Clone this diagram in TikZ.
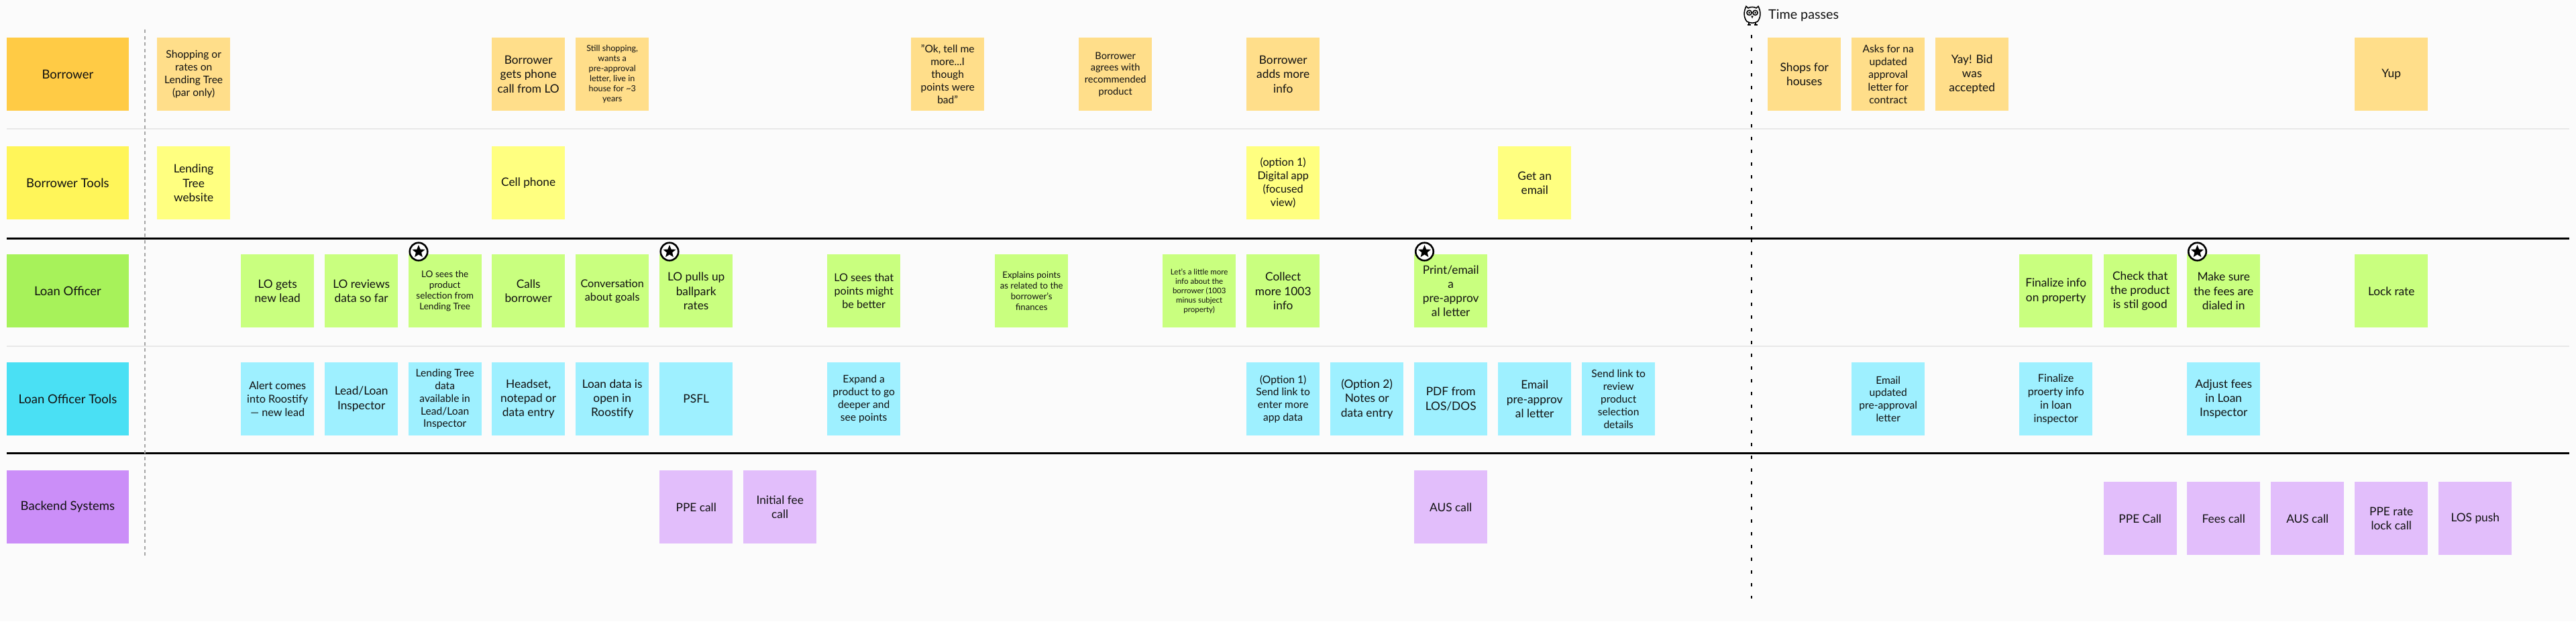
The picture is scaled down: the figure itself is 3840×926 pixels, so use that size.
\documentclass[tikz,border=0pt]{standalone}
\usepackage{fontspec}
\setmainfont{Lato}
\usetikzlibrary{shapes.geometric}
\definecolor{pagebg}{HTML}{FBFBFB}
\definecolor{labA}{HTML}{FFCB45}\definecolor{noteA}{HTML}{FFDE8A}
\definecolor{labB}{HTML}{FFF559}\definecolor{noteB}{HTML}{FFFF80}
\definecolor{labC}{HTML}{A7F25A}\definecolor{noteC}{HTML}{C9FF7F}
\definecolor{labD}{HTML}{4AE0F4}\definecolor{noteD}{HTML}{9EF0FF}
\definecolor{labE}{HTML}{CB8EF8}\definecolor{noteE}{HTML}{E2BEFB}
\definecolor{inkc}{HTML}{111111}
\tikzset{
  x=1pt,y=-1pt,
  box/.style={anchor=north west,inner sep=0pt,minimum height=109pt,align=center,text=inkc},
  lab/.style={box,minimum width=181.5pt,font=\fontsize{18.5}{21}\selectfont},
  nt/.style={box,minimum width=109pt},
  fbig/.style={font=\fontsize{17.3}{21.3}\selectfont},
  flar/.style={font=\fontsize{16.2}{20}\selectfont},
  fmid/.style={font=\fontsize{15.6}{18.9}\selectfont},
  fagr/.style={font=\fontsize{14.6}{17.6}\selectfont},
  fsma/.style={font=\fontsize{13.6}{16.3}\selectfont},
  fexp/.style={font=\fontsize{13.2}{15.7}\selectfont},
  fmin/.style={font=\fontsize{12.6}{15}\selectfont},
  ftin/.style={font=\fontsize{11.5}{14}\selectfont},
  A/.style={fill=noteA},B/.style={fill=noteB},C/.style={fill=noteC},D/.style={fill=noteD},E/.style={fill=noteE},
  softline/.style={draw=black!9,line width=2pt},
  hardline/.style={draw=black,line width=3pt},
  startline/.style={draw=black!35,line width=2.5pt,dash pattern=on 5pt off 4.5pt},
  timeline/.style={draw=black,line width=2.5pt,dash pattern=on 5pt off 14pt},
  badge/.style={circle,draw=black,fill=white,line width=2.6pt,minimum size=26.5pt,inner sep=0pt},
  badgestar/.style={star,star points=5,star point ratio=2.3,fill=black,minimum size=20pt,inner sep=0pt},
}
\newcommand{\nnote}[6]{\node[nt,#1,#5] (#2) at (#3,#4) {#6};}
\newcommand{\bdg}[2]{\node[badge] (#1) at (#2,375) {}; \node[badgestar] (#1s) at (#1) {};}
\begin{document}
\begin{tikzpicture}
\fill[pagebg] (0,0) rectangle (3840,926);
\useasboundingbox (0,0) rectangle (3840,926);
% rules
\coordinate (l1a) at (10,192);\coordinate (l1b) at (3830,192);
\coordinate (l2a) at (10,355);\coordinate (l2b) at (3830,355);
\coordinate (l3a) at (10,516);\coordinate (l3b) at (3830,516);
\coordinate (l4a) at (10,675);\coordinate (l4b) at (3830,675);
\draw[softline] (l1a)--(l1b);
\draw[softline] (l3a)--(l3b);
\draw[hardline] (l2a)--(l2b);
\draw[hardline] (l4a)--(l4b);
\coordinate (sa) at (216,44);\coordinate (sb) at (216,828);
\draw[startline] (sa)--(sb);
\coordinate (ta) at (2611,52);\coordinate (tb) at (2611,892);
\draw[timeline] (ta)--(tb);
% labels
\node[lab,fill=labA] (lbA) at (10,56) {Borrower};
\node[lab,fill=labB] (lbB) at (10,218) {Borrower Tools};
\node[lab,fill=labC] (lbC) at (10,379) {Loan Officer};
\node[lab,fill=labD] (lbD) at (10,540) {Loan Officer Tools};
\node[lab,fill=labE] (lbE) at (10,701) {Backend Systems};
% Borrower
\nnote{A}{a1}{234}{56}{fmid}{Shopping or\\rates on\\Lending Tree\\(par only)}
\nnote{A}{a2}{733}{56}{fbig}{Borrower\\gets phone\\call from LO}
\nnote{A}{a3}{858}{56}{fmin}{Still shopping,\\wants a\\pre-approval\\letter, live in\\house for \textasciitilde 3\\years}
\nnote{A}{a4}{1358}{56}{fmid}{"Ok, tell me\\more...I\\though\\points were\\bad"}
\nnote{A}{a5}{1608}{56}{fagr}{Borrower\\agrees with\\recommended\\product}
\nnote{A}{a6}{1858}{56}{fbig}{Borrower\\adds more\\info}
\nnote{A}{a7}{2635}{56}{fbig}{Shops for\\houses}
\nnote{A}{a8}{2760}{56}{fmid}{Asks for na\\updated\\approval\\letter for\\contract}
\nnote{A}{a9}{2885}{56}{fbig}{Yay! Bid\\was\\accepted}
\nnote{A}{a10}{3510}{56}{fbig}{Yup}
% Borrower tools
\nnote{B}{b1}{234}{218}{fbig}{Lending\\Tree\\website}
\nnote{B}{b2}{733}{218}{fbig}{Cell phone}
\nnote{B}{b3}{1858}{218}{flar}{(option 1)\\Digital app\\(focused\\view)}
\nnote{B}{b4}{2233}{218}{fbig}{Get an\\email}
% Loan officer
\nnote{C}{c1}{359}{379}{fbig}{LO gets\\new lead}
\nnote{C}{c2}{484}{379}{fbig}{LO reviews\\data so far}
\nnote{C}{c3}{608.5}{379}{fsma}{LO sees the\\product\\selection from\\Lending Tree}
\nnote{C}{c4}{733}{379}{fbig}{Calls\\borrower}
\nnote{C}{c5}{858}{379}{flar}{Conversation\\about goals}
\nnote{C}{c6}{983}{379}{fbig}{LO pulls up\\ballpark\\rates}
\nnote{C}{c7}{1233}{379}{flar}{LO sees that\\points might\\be better}
\nnote{C}{c8}{1483}{379}{fexp}{Explains points\\as related to the\\borrower's\\finances}
\nnote{C}{c9}{1733}{379}{ftin}{Let's a little more\\info about the\\borrower (1003\\minus subject\\property)}
\nnote{C}{c10}{1858}{379}{fbig}{Collect\\more 1003\\info}
\nnote{C}{c11}{2108}{379}{fbig}{Print/email\\a\\pre-approv\\al letter}
\nnote{C}{c12}{3010}{379}{fbig}{Finalize info\\on property}
\nnote{C}{c13}{3135.5}{379}{fbig}{Check that\\the product\\is stil good}
\nnote{C}{c14}{3260}{379}{fbig}{Make sure\\the fees are\\dialed in}
\nnote{C}{c15}{3510}{379}{fbig}{Lock rate}
% Loan officer tools
\nnote{D}{d1}{359}{540}{flar}{Alert comes\\into Roostify\\--- new lead}
\nnote{D}{d2}{484}{540}{fbig}{Lead/Loan\\Inspector}
\nnote{D}{d3}{608.5}{540}{fmid}{Lending Tree\\data\\available in\\Lead/Loan\\Inspector}
\nnote{D}{d4}{733}{540}{fbig}{Headset,\\notepad or\\data entry}
\nnote{D}{d5}{858}{540}{fbig}{Loan data is\\open in\\Roostify}
\nnote{D}{d6}{983}{540}{fbig}{PSFL}
\nnote{D}{d7}{1233}{540}{fmid}{Expand a\\product to go\\deeper and\\see points}
\nnote{D}{d8}{1858}{540}{fmid}{(Option 1)\\Send link to\\enter more\\app data}
\nnote{D}{d9}{1983}{540}{fbig}{(Option 2)\\Notes or\\data entry}
\nnote{D}{d10}{2108}{540}{fbig}{PDF from\\LOS/DOS}
\nnote{D}{d11}{2233}{540}{fbig}{Email\\pre-approv\\al letter}
\nnote{D}{d12}{2358}{540}{fmid}{Send link to\\review\\product\\selection\\details}
\nnote{D}{d13}{2760}{540}{fmid}{Email\\updated\\pre-approval\\letter}
\nnote{D}{d14}{3010}{540}{flar}{Finalize\\proerty info\\in loan\\inspector}
\nnote{D}{d15}{3260}{540}{fbig}{Adjust fees\\in Loan\\Inspector}
% Backend
\nnote{E}{e1}{983}{701}{fbig}{PPE call}
\nnote{E}{e2}{1108}{701}{fbig}{Initial fee\\call}
\nnote{E}{e3}{2108}{701}{fbig}{AUS call}
\nnote{E}{e4}{3135.5}{718}{fbig}{PPE Call}
\nnote{E}{e5}{3260}{718}{fbig}{Fees call}
\nnote{E}{e6}{3385}{718}{fbig}{AUS call}
\nnote{E}{e7}{3510}{718}{fbig}{PPE rate\\lock call}
\nnote{E}{e8}{3635}{718}{fbig}{LOS push}
% badges
\bdg{s1}{624}
\bdg{s2}{998}
\bdg{s3}{2123.5}
\bdg{s4}{3275.5}
% time passes
\node[anchor=west,inner sep=0pt,text=inkc,font=\fontsize{19.7}{24}\selectfont] (tp) at (2636,23) {Time passes};
\begin{scope}[shift={(2612,23)},line width=1.6pt,draw=black]
\draw (-6,-11) .. controls (-3,-13) and (3,-13) .. (6,-11) -- (9,-13.5) .. controls (13,-6) and (13,3) .. (8,9) .. controls (3,12) and (-3,12) .. (-8,9) .. controls (-13,3) and (-13,-6) .. (-9,-13.5) -- cycle;
\draw (-4.5,-4) circle (3.6);
\draw (4.5,-4) circle (3.6);
\fill (-4.5,-4) circle (1.5);
\fill (4.5,-4) circle (1.5);
\fill (-1.8,0.5) -- (1.8,0.5) -- (0,4.5) -- cycle;
\draw (-5,10) -- (-5,14) (-7.5,14) -- (-2.5,14);
\draw (5,10) -- (5,14) (2.5,14) -- (7.5,14);
\end{scope}
\end{tikzpicture}
\end{document}
